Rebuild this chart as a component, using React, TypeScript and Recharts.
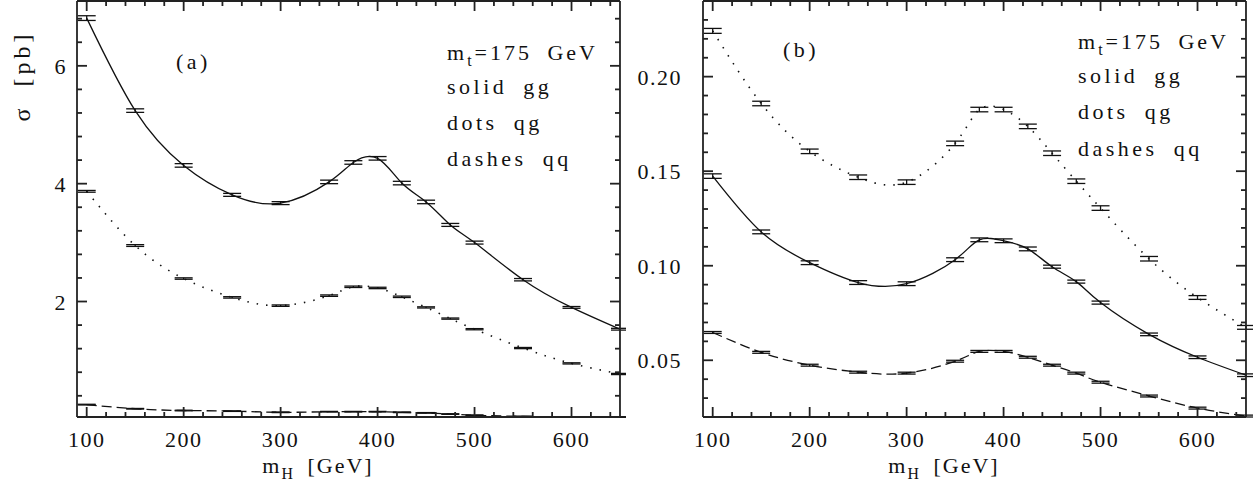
import { ComposedChart, ErrorBar, Line, XAxis, YAxis } from "recharts";

// Higgs mass points (GeV)
const MH = [100, 150, 200, 250, 300, 350, 375, 400, 425, 450, 475, 500, 550, 600, 650];

// panel (a): sigma [pb]
const A_GG = [6.81, 5.24, 4.31, 3.81, 3.67, 4.03, 4.36, 4.43, 4.01, 3.69, 3.3, 3.0, 2.37, 1.9, 1.53];
const A_GG_ERR = [0.04, 0.03, 0.03, 0.025, 0.025, 0.03, 0.03, 0.03, 0.03, 0.03, 0.025, 0.025, 0.02, 0.015, 0.015];
const A_QG = [3.87, 2.95, 2.39, 2.07, 1.93, 2.1, 2.25, 2.23, 2.08, 1.9, 1.71, 1.53, 1.21, 0.95, 0.77];
const A_QG_ERR = [0.015, 0.015, 0.012, 0.012, 0.012, 0.012, 0.012, 0.012, 0.012, 0.01, 0.01, 0.01, 0.01, 0.01, 0.01];
const A_QQ = [0.25, 0.18, 0.15, 0.14, 0.12, 0.13, 0.13, 0.13, 0.12, 0.11, 0.09, 0.07, 0.05, 0.04, 0.04];
const A_QQ_ERR = [0.006, 0.005, 0.005, 0.005, 0.005, 0.005, 0.005, 0.005, 0.005, 0.005, 0.005, 0.005, 0.005, 0.005, 0.005];

// panel (b)
const B_GG = [0.1474, 0.1179, 0.1016, 0.0911, 0.0905, 0.1032, 0.1137, 0.1132, 0.1089, 0.0995, 0.0916, 0.0805, 0.0637, 0.0516, 0.0421];
const B_GG_ERR = [0.0012, 0.001, 0.001, 0.001, 0.001, 0.001, 0.001, 0.001, 0.001, 0.0008, 0.0008, 0.0008, 0.0007, 0.0007, 0.0007];
const B_QG = [0.2242, 0.1858, 0.1605, 0.1468, 0.1442, 0.1647, 0.1826, 0.1826, 0.1737, 0.1595, 0.1447, 0.1305, 0.1037, 0.0832, 0.0674];
const B_QG_ERR = [0.0013, 0.0012, 0.0012, 0.0012, 0.0012, 0.0012, 0.0012, 0.0012, 0.0012, 0.0012, 0.0012, 0.0012, 0.0012, 0.001, 0.001];
const B_QQ = [0.0647, 0.0542, 0.0474, 0.0437, 0.0432, 0.0495, 0.0547, 0.0547, 0.0516, 0.0474, 0.0432, 0.0384, 0.0311, 0.0247, 0.0205];
const B_QQ_ERR = [0.0005, 0.0005, 0.0005, 0.0005, 0.0005, 0.0005, 0.0005, 0.0005, 0.0005, 0.0005, 0.0005, 0.0005, 0.0005, 0.0005, 0.0005];

// axes
const X_DOMAIN: [number, number] = [90, 650];
const X_MAJOR = [100, 200, 300, 400, 500, 600];
const X_MINOR = [120, 140, 160, 180, 220, 240, 260, 280, 320, 340, 360, 380, 420, 440, 460, 480, 520, 540, 560, 580, 620, 640];

const A_Y_DOMAIN: [number, number] = [0.04, 7.1];
const A_Y_MAJOR = [2, 4, 6];
const A_Y_MINOR = [0.4, 0.8, 1.2, 1.6, 2.4, 2.8, 3.2, 3.6, 4.4, 4.8, 5.2, 5.6, 6.4, 6.8];

const B_Y_DOMAIN: [number, number] = [0.02, 0.24];
const B_Y_MAJOR = [0.05, 0.1, 0.15, 0.2];
const B_Y_MINOR = [0.03, 0.04, 0.06, 0.07, 0.08, 0.09, 0.11, 0.12, 0.13, 0.14, 0.16, 0.17, 0.18, 0.19, 0.21, 0.22, 0.23];

const FONT = "'Liberation Serif', 'Times New Roman', serif";
const INK = "#111";
const FRAME = { stroke: "#222", strokeWidth: 1.8 };

// plot box inside each chart (chart-local px)
const CHART_H = 487;
const M_TOP = 1;
const M_LEFT = 32;
const M_BOTTOM = 25;
const X_AXIS_H = 45;
const Y_AXIS_W = 45;
const PLOT_TOP = M_TOP;
const PLOT_LEFT = M_LEFT + Y_AXIS_W;
const PLOT_BOTTOM = CHART_H - M_BOTTOM - X_AXIS_H;

const rowsA = MH.map((m, i) => ({
  m,
  gg: A_GG[i], ggErr: A_GG_ERR[i],
  qg: A_QG[i], qgErr: A_QG_ERR[i],
  qq: A_QQ[i], qqErr: A_QQ_ERR[i],
}));

const rowsB = MH.map((m, i) => ({
  m,
  gg: B_GG[i], ggErr: B_GG_ERR[i],
  qg: B_QG[i], qgErr: B_QG_ERR[i],
  qq: B_QQ[i], qqErr: B_QQ_ERR[i],
}));

type Side = "bottom" | "top" | "left" | "right";

const isIn = (v: number, list: number[]) => list.some((t) => Math.abs(t - v) < 1e-9);

// inward tick marks drawn from the frame edge; labels only on bottom/left majors
function makeTick(side: Side, major: number[], edge: number, fmt?: (v: number) => string, gap = 0) {
  return (p: any) => {
    const v = p.payload.value as number;
    const big = isIn(v, major);
    const len = big ? 10 : 5;
    const horiz = side === "bottom" || side === "top";
    const c = horiz ? p.x : p.y;
    let d = "";
    if (side === "bottom") d = `M${c},${edge}V${edge - len}`;
    if (side === "top") d = `M${c},${edge}V${edge + len}`;
    if (side === "left") d = `M${edge},${c}H${edge + len}`;
    if (side === "right") d = `M${edge},${c}H${edge - len}`;
    let label = null;
    if (big && fmt && side === "bottom") {
      label = (
        <text x={c} y={edge + gap} textAnchor="middle" fontSize={22} fontFamily={FONT} fill={INK} letterSpacing={1.5}>
          {fmt(v)}
        </text>
      );
    }
    if (big && fmt && side === "left") {
      label = (
        <text x={edge - gap} y={c + 8} textAnchor="end" fontSize={22} fontFamily={FONT} fill={INK} letterSpacing={1.5}>
          {fmt(v)}
        </text>
      );
    }
    return (
      <g>
        <path d={d} stroke="#222" strokeWidth={1.8} fill="none" />
        {label}
      </g>
    );
  };
}

type PanelProps = {
  rows: typeof rowsA;
  yDomain: [number, number];
  yMajor: number[];
  yMinor: number[];
  fmt: (v: number) => string;
  yGap: number;
  width: number;
  marginRight: number;
};

function Panel({ rows, yDomain, yMajor, yMinor, fmt, yGap, width, marginRight }: PanelProps) {
  const xTicks = [...X_MAJOR, ...X_MINOR].sort((a, b) => a - b);
  const yTicks = [...yMajor, ...yMinor].sort((a, b) => a - b);
  const plotRight = width - marginRight;
  const common = { type: "number" as const, allowDataOverflow: true, interval: 0 as const, tickLine: false, tickSize: 0, tickMargin: 0, axisLine: FRAME };
  return (
    <ComposedChart
      width={width}
      height={CHART_H}
      data={rows}
      margin={{ top: M_TOP, right: marginRight, left: M_LEFT, bottom: M_BOTTOM }}
    >
      <XAxis {...common} xAxisId="x" dataKey="m" domain={X_DOMAIN} orientation="bottom" ticks={xTicks}
        tick={makeTick("bottom", X_MAJOR, PLOT_BOTTOM, (v) => String(v), 30)} height={X_AXIS_H} />
      <XAxis {...common} xAxisId="top" dataKey="m" domain={X_DOMAIN} orientation="top" ticks={xTicks}
        tick={makeTick("top", X_MAJOR, PLOT_TOP)} height={0.01} />
      <YAxis {...common} yAxisId="y" domain={yDomain} orientation="left" ticks={yTicks}
        tick={makeTick("left", yMajor, PLOT_LEFT, fmt, yGap)} width={Y_AXIS_W} />
      <YAxis {...common} yAxisId="right" domain={yDomain} orientation="right" ticks={yTicks}
        tick={makeTick("right", yMajor, plotRight)} width={0.01} />

      <Line xAxisId="x" yAxisId="y" dataKey="gg" type="natural" stroke={INK} strokeWidth={1.3}
        dot={false} activeDot={false} isAnimationActive={false}>
        <ErrorBar dataKey="ggErr" width={9} stroke={INK} strokeWidth={1.3} direction="y" />
      </Line>
      <Line xAxisId="x" yAxisId="y" dataKey="qg" type="natural" stroke={INK} strokeWidth={1.6}
        strokeDasharray="1.5 8" dot={false} activeDot={false} isAnimationActive={false}>
        <ErrorBar dataKey="qgErr" width={9} stroke={INK} strokeWidth={1.3} direction="y" />
      </Line>
      <Line xAxisId="x" yAxisId="y" dataKey="qq" type="natural" stroke={INK} strokeWidth={1.3}
        strokeDasharray="10 5" dot={false} activeDot={false} isAnimationActive={false}>
        <ErrorBar dataKey="qqErr" width={9} stroke={INK} strokeWidth={1.3} direction="y" />
      </Line>
    </ComposedChart>
  );
}

const txt: React.CSSProperties = {
  position: "absolute",
  fontFamily: FONT,
  fontSize: 22,
  color: INK,
  whiteSpace: "pre",
  lineHeight: "22px",
  letterSpacing: 3.5,
  wordSpacing: 7,
};

const sub: React.CSSProperties = { fontSize: "0.72em", verticalAlign: "-0.35em", lineHeight: 0 };

function Notes({ left, tops }: { left: number; tops: number[] }) {
  return (
    <>
      <div style={{ ...txt, left, top: tops[0] + 2, letterSpacing: 3 }}>
        m<span style={sub}>t</span>=175 GeV
      </div>
      <div style={{ ...txt, left, top: tops[1] }}>solid gg</div>
      <div style={{ ...txt, left, top: tops[2] }}>dots qg</div>
      <div style={{ ...txt, left, top: tops[3] }}>dashes qq</div>
    </>
  );
}

function AxisTitleX({ cx }: { cx: number }) {
  return (
    <div style={{ ...txt, left: cx, top: 455, transform: "translateX(-50%)", letterSpacing: 2, wordSpacing: 5 }}>
      m<span style={sub}>H</span> [GeV]
    </div>
  );
}

export default function App() {
  return (
    <div style={{ position: "relative", width: 1253, height: 487, background: "#fff", overflow: "hidden" }}>
      <style>{"body{margin:0}"}</style>
      <div style={{ position: "absolute", left: 0, top: 0 }}>
        <Panel rows={rowsA} yDomain={A_Y_DOMAIN} yMajor={A_Y_MAJOR} yMinor={A_Y_MINOR}
          fmt={(v) => String(v)} yGap={10} width={626} marginRight={6} />
      </div>
      <div style={{ position: "absolute", left: 626, top: 0 }}>
        <Panel rows={rowsB} yDomain={B_Y_DOMAIN} yMajor={B_Y_MAJOR} yMinor={B_Y_MINOR}
          fmt={(v) => v.toFixed(2)} yGap={21} width={627} marginRight={7} />
      </div>

      {/* panel labels */}
      <div style={{ ...txt, left: 176, top: 51 }}>(a)</div>
      <div style={{ ...txt, left: 783, top: 39 }}>(b)</div>

      <Notes left={447} tops={[40, 76, 112, 148]} />
      <Notes left={1078} tops={[29, 65, 101, 138]} />

      <div style={{ ...txt, fontSize: 24, letterSpacing: 4, wordSpacing: 8, left: 22, top: 76, transform: "translate(-50%, -50%) rotate(-90deg)" }}>
        σ [pb]
      </div>
      <AxisTitleX cx={318} />
      <AxisTitleX cx={944} />
    </div>
  );
}
